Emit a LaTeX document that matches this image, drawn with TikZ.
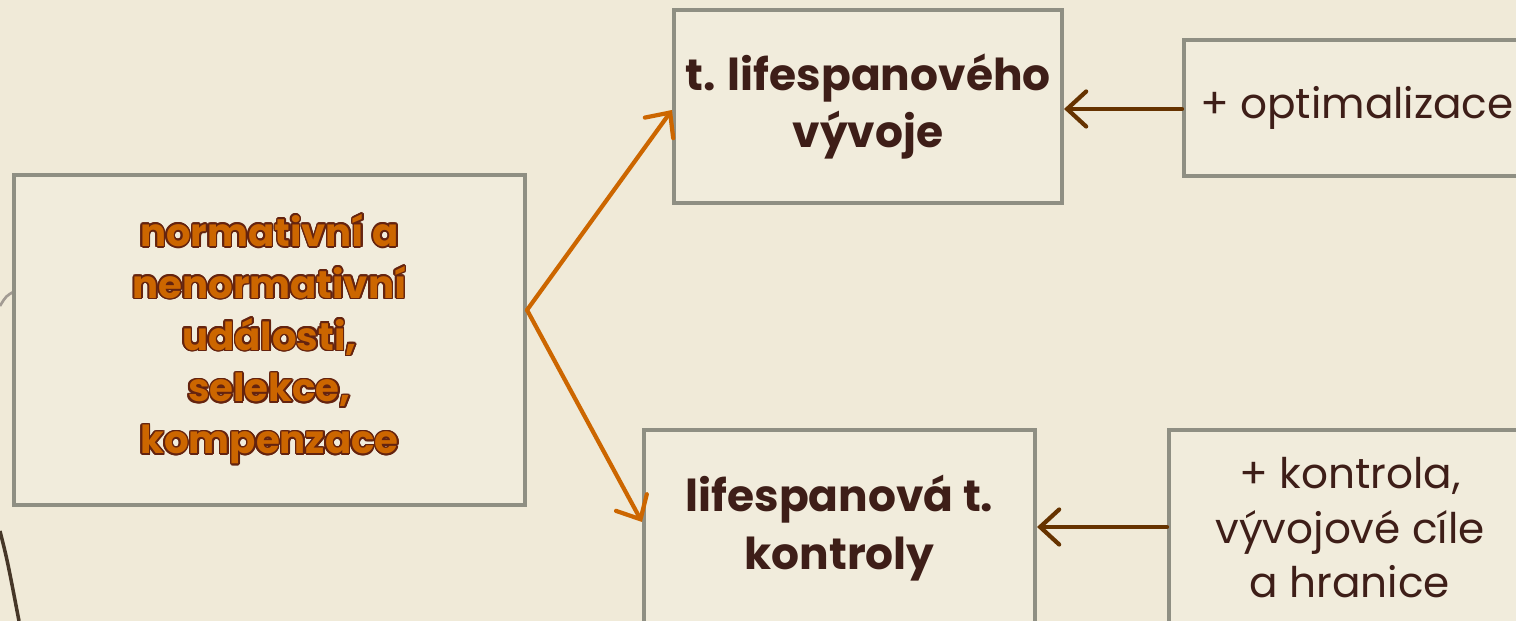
\documentclass[tikz,border=0pt]{standalone}
\usepackage{fontspec}
\setmainfont{Poppins}
\usepackage{contour}
\contourlength{0.9pt}
\usepackage{tikz}
\usetikzlibrary{arrows.meta,calc,positioning}

\definecolor{paper}{RGB}{240,234,216}
\definecolor{boxfill}{RGB}{241,236,220}
\definecolor{boxline}{RGB}{143,143,131}
\definecolor{ink}{RGB}{62,30,24}
\definecolor{rust}{RGB}{204,102,0}
\definecolor{bark}{RGB}{102,51,0}
\definecolor{rim}{RGB}{100,35,15}
\definecolor{twig}{RGB}{70,55,40}

\begin{document}
\begin{tikzpicture}[
    box/.style={draw=boxline, fill=boxfill, line width=2.3pt, align=center,
      text=ink, inner sep=0pt},
    fork/.style={rust, line width=2.4pt, line cap=round,
      -{Straight Barb[length=3.8mm,width=7mm,line cap=round]}},
    back/.style={bark, line width=2.4pt, line cap=round,
      -{Straight Barb[length=3.8mm,width=7mm,line cap=round]}}]
  \useasboundingbox (0,0) rectangle (30.32,12.42);
  \clip (0,0) rectangle (30.32,12.42);
  \fill[paper] (0,0) rectangle (30.32,12.42);
  % branch of the backdrop, left edge
  \draw[twig, line width=2pt] (0,1.8) .. controls (0.15,1.2) .. (0.38,0);
  \draw[twig!50, line width=1.5pt] (0,6.3) .. controls (0.12,6.5) .. (0.3,6.6);

  \node[box, minimum width=10.22cm, minimum height=6.6cm,
    font=\fontsize{22}{29.5}\selectfont\bfseries, text=rust] (ev) at (5.39,5.62)
    {\contour{rim}{normativní a}\\ \contour{rim}{nenormativní}\\
     \contour{rim}{události,}\\ \contour{rim}{selekce,}\\ \contour{rim}{kompenzace}};

  \node[box, minimum width=7.76cm, minimum height=3.86cm,
    font=\fontsize{25}{32}\selectfont\bfseries] (lv) at (17.36,10.29)
    {t. lifespanového\\ vývoje};
  \node[box, minimum width=6.92cm, minimum height=2.72cm,
    font=\fontsize{24}{32}\selectfont] (opt) at (27.14,10.26)
    {+ optimalizace};

  \node[box, minimum width=7.82cm, minimum height=3.92cm,
    font=\fontsize{25}{33}\selectfont\bfseries] (lk) at (16.79,1.86)
    {lifespanová t.\\ kontroly};
  \node[box, minimum width=7.24cm, minimum height=3.92cm,
    font=\fontsize{24}{31}\selectfont] (kc) at (27.0,1.86)
    {+ kontrola,\\ vývojové cíle\\ a hranice};

  \coordinate (split) at ([yshift=0.6cm]ev.east);
  \draw[fork] (split) to ([yshift=-0.07cm]lv.west);
  \draw[fork] (split) to ([yshift=0.12cm]lk.west);

  \draw[back] ([yshift=-0.02cm]opt.west) to ([yshift=-0.02cm]opt.west -| lv.east);
  \draw[back] ([yshift=0.02cm]kc.west) to ([yshift=0.02cm]kc.west -| lk.east);
\end{tikzpicture}
\end{document}
